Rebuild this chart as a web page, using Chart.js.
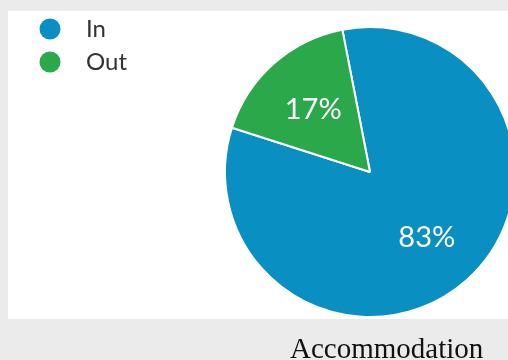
<!DOCTYPE html>
<html>
<head>
<meta charset="utf-8">
<script src="https://cdn.jsdelivr.net/npm/chart.js@4/dist/chart.umd.min.js"></script>
<style>
  html, body { margin: 0; padding: 0; }
  body { width: 508px; height: 360px; overflow: hidden; position: relative; background: #ebebeb; }
  #panel { position: absolute; left: 8px; top: 11px; width: 520px; height: 308px; background: #fff; }
  #pie { position: absolute; left: 0; top: 0; }
  #caption { position: absolute; left: 290px; top: 334px; font: 29px/29px "Liberation Serif", "Times New Roman", serif; color: #111; white-space: nowrap; }
</style>
</head>
<body>
<div id="panel"></div>
<canvas id="pie" width="611" height="340"></canvas>
<div id="caption">Accommodation</div>
<script>
// ─── Accommodation pie ───────────────────────────────────────────────────────
const labels = ['In', 'Out'];
const shares = [83, 17];

const COLORS = ['#0a8fc2', '#2aa84a'];
const DOT_BOX = 35;   // legend symbol box width, dot sits at its left

// small round legend marker, drawn left-aligned inside a wider box
function dotImage(color) {
  const c = document.createElement('canvas');
  c.width = DOT_BOX;
  c.height = 22;
  const g = c.getContext('2d');
  g.fillStyle = color;
  g.beginPath();
  g.arc(11, 11, 10.5, 0, Math.PI * 2);
  g.fill();
  return c;
}

// white percentage text inside each slice
const sliceLabels = {
  id: 'sliceLabels',
  afterDatasetsDraw(chart) {
    const ctx = chart.ctx;
    const meta = chart.getDatasetMeta(0);
    ctx.save();
    ctx.font = '29px Lato, "Open Sans", sans-serif';
    ctx.fillStyle = '#fff';
    ctx.textAlign = 'center';
    ctx.textBaseline = 'middle';
    meta.data.forEach((arc, i) => {
      const { x, y, startAngle, endAngle, outerRadius } =
        arc.getProps(['x', 'y', 'startAngle', 'endAngle', 'outerRadius'], true);
      const mid = (startAngle + endAngle) / 2;
      const r = outerRadius * 0.59;
      ctx.fillText(shares[i] + '%', x + Math.cos(mid) * r, y + Math.sin(mid) * r + 2);
    });
    ctx.restore();
  }
};

new Chart(document.getElementById('pie'), {
  type: 'pie',
  data: {
    labels,
    datasets: [{
      data: shares,
      backgroundColor: COLORS,
      borderColor: '#fff',
      borderWidth: 2,
      hoverOffset: 0,
      radius: 145
    }]
  },
  options: {
    responsive: false,
    animation: false,
    rotation: -11,
    layout: { padding: { left: 30, top: 8, right: 8, bottom: 4 } },
    plugins: {
      legend: {
        position: 'left',
        align: 'start',
        labels: {
          usePointStyle: true,
          pointStyleWidth: DOT_BOX,
          boxHeight: 15,
          padding: 9,
          color: '#333',
          font: { family: 'Lato, "Open Sans", sans-serif', size: 24 },
          generateLabels(chart) {
            const items = Chart.overrides.pie.plugins.legend.labels.generateLabels(chart);
            items.forEach((it, i) => { it.pointStyle = dotImage(COLORS[i]); });
            return items;
          }
        }
      },
      tooltip: { enabled: false }
    }
  },
  plugins: [sliceLabels]
});
</script>
</body>
</html>
